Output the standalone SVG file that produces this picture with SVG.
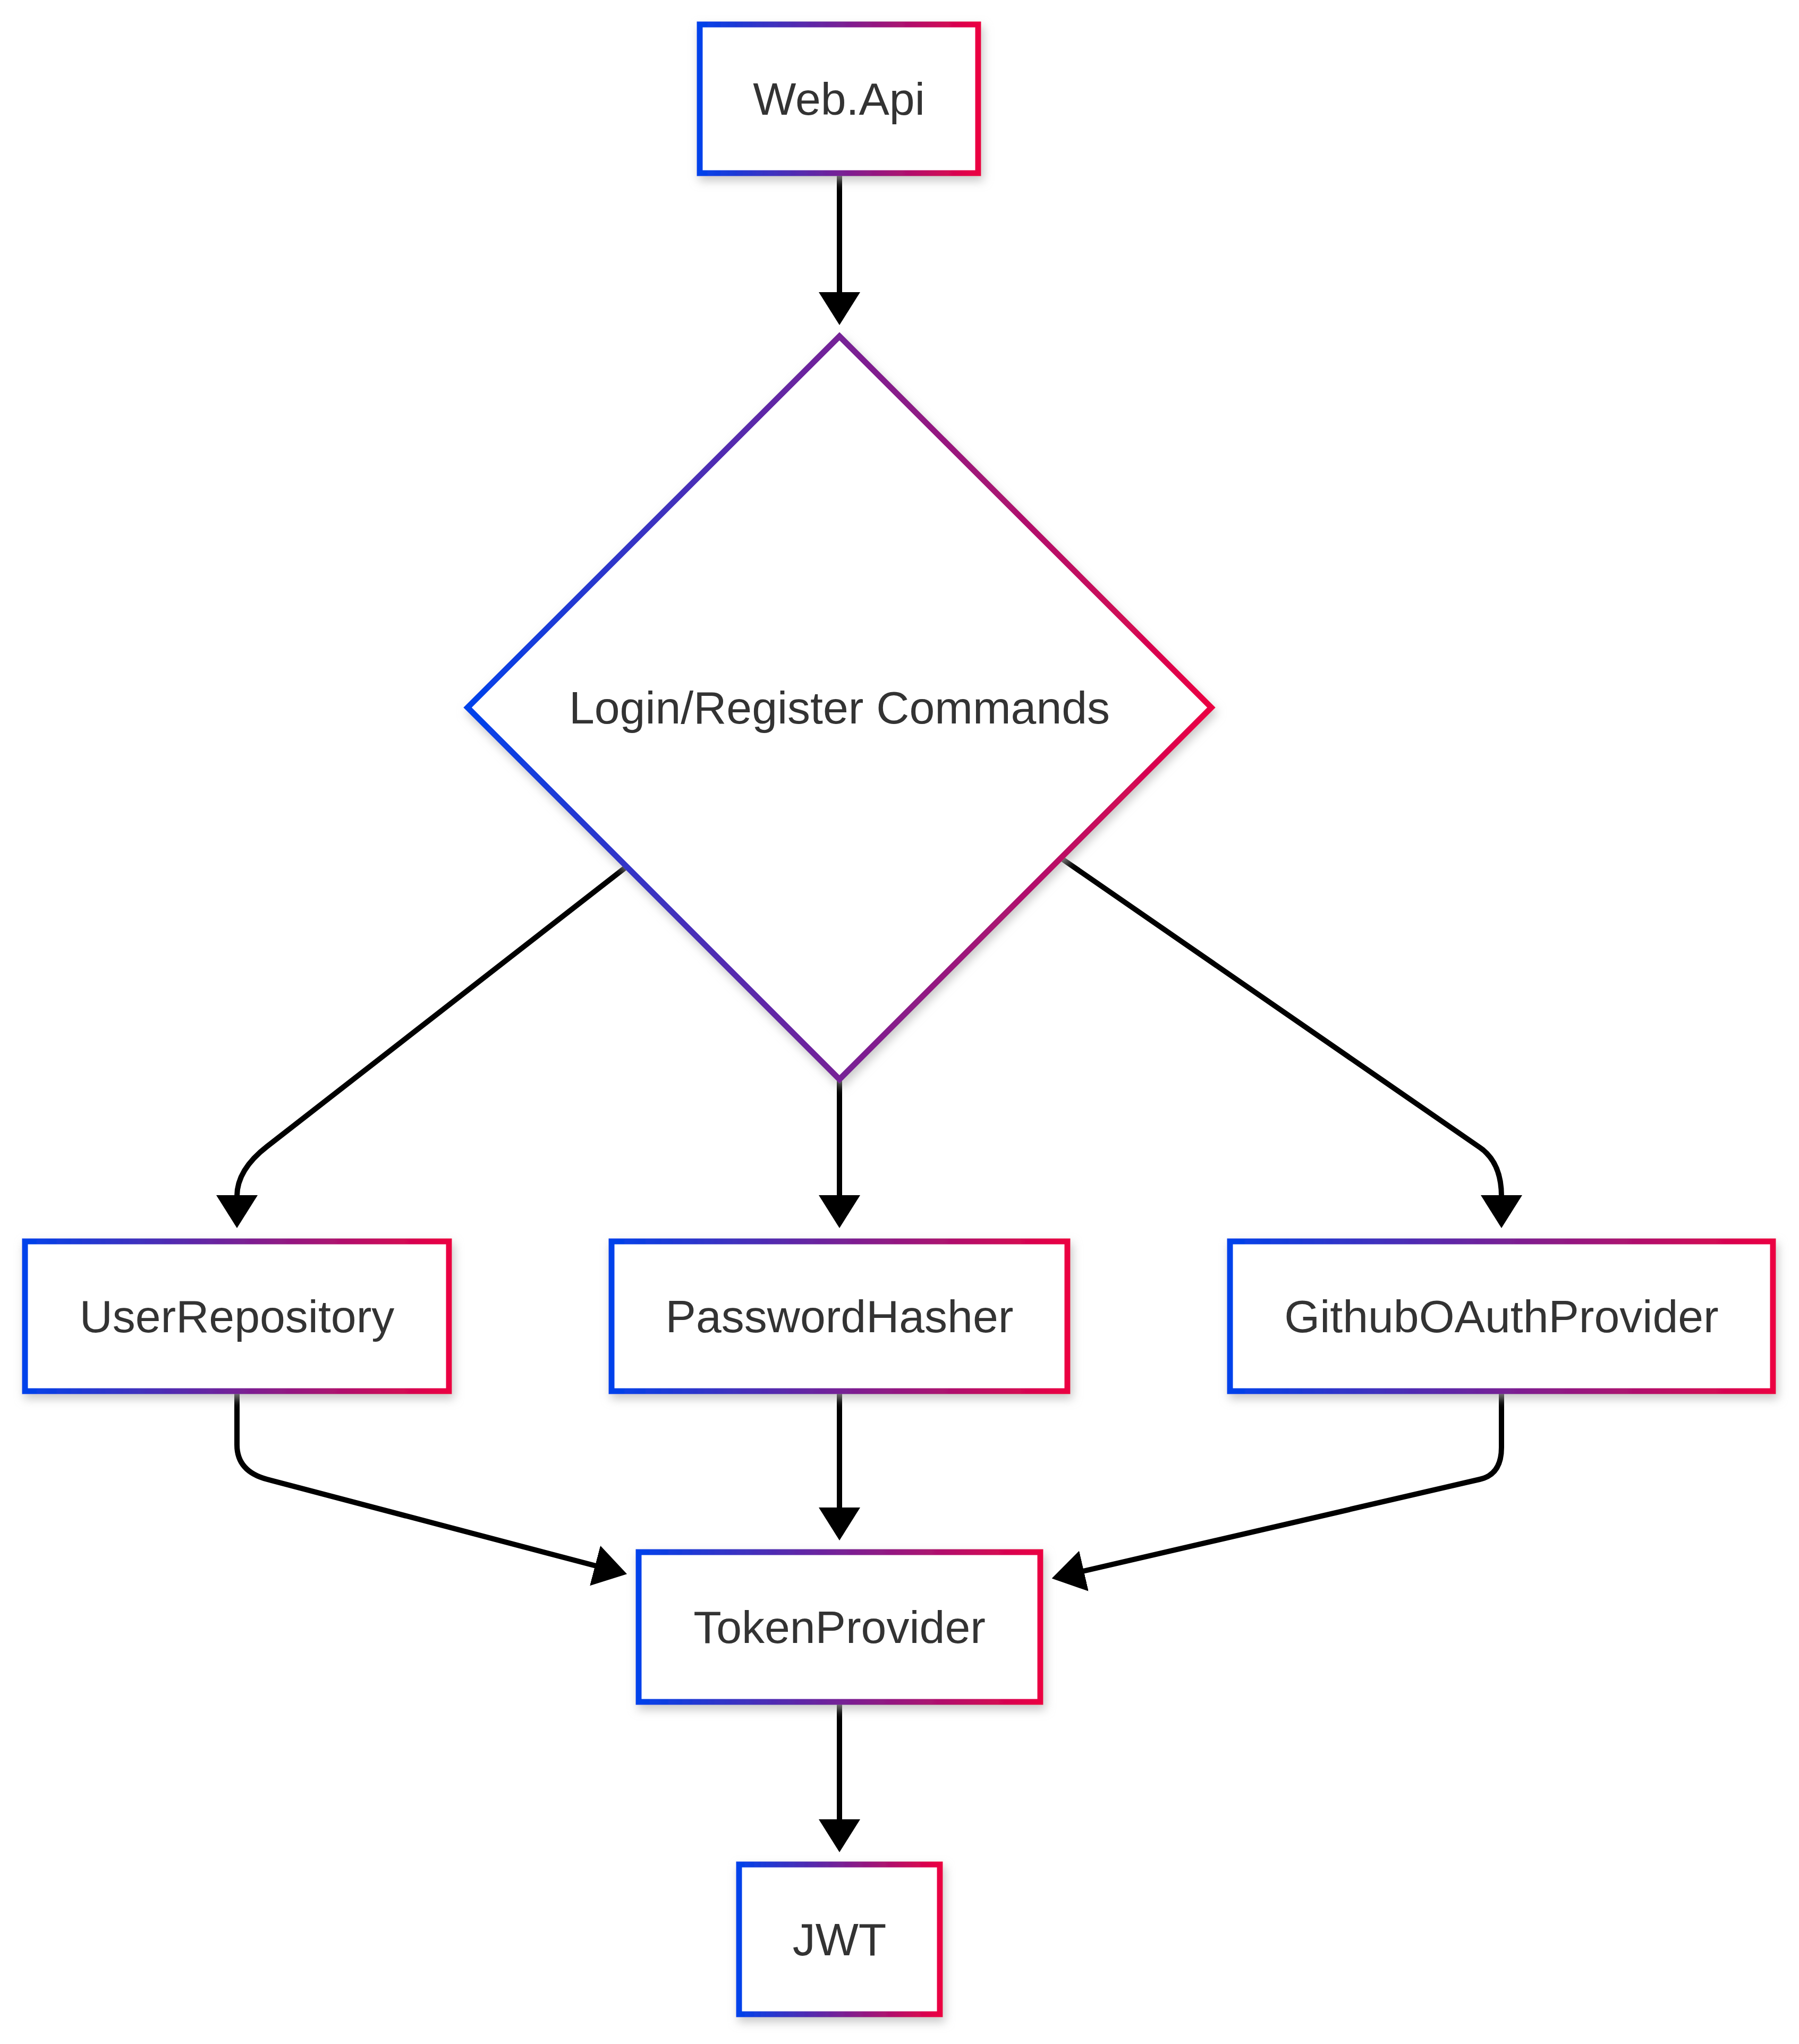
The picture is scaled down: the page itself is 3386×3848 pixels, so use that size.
<svg xmlns="http://www.w3.org/2000/svg" width="3386" height="3848" viewBox="0 0 3386 3848">
<defs>
<linearGradient id="g" x1="0" y1="0" x2="1" y2="0">
<stop offset="0" stop-color="#0042eb"/>
<stop offset="1" stop-color="#eb0042"/>
</linearGradient>
<filter id="sh" x="-20%" y="-20%" width="140%" height="150%">
<feDropShadow dx="4" dy="9" stdDeviation="9" flood-color="#b0b0b0" flood-opacity="0.7"/>
</filter>
<marker id="ah" viewBox="0 0 62 78" refX="2" refY="39" markerWidth="62" markerHeight="78" markerUnits="userSpaceOnUse" orient="auto">
<path d="M0,0 L62,39 L0,78 Z" fill="#000"/>
</marker>
<style>
.n{fill:#fff;stroke:url(#g);stroke-width:11;filter:url(#sh)}
.t{font-family:"Liberation Sans",Arial,sans-serif;font-size:86px;fill:#333;text-anchor:middle}
.e{fill:none;stroke:#000;stroke-width:10;marker-end:url(#ah)}
</style>
</defs>
<rect width="3386" height="3848" fill="#fff"/>
<g id="edges">
<path class="e" d="M1580,326 L1580,552"/>
<path class="e" d="M1180,1631 L503,2158 Q446,2202 446,2252"/>
<path class="e" d="M1580,2032 L1580,2252"/>
<path class="e" d="M1999,1617 L2785,2160 Q2826,2188 2826,2252"/>
<path class="e" d="M446,2618 L446,2720 Q446,2770 503,2785 L1122,2948"/>
<path class="e" d="M1580,2618 L1580,2840"/>
<path class="e" d="M2826,2618 L2826,2725 Q2826,2776 2785,2785 L2038,2958"/>
<path class="e" d="M1580,3204 L1580,3427"/>
</g>
<g id="webapi">
<rect class="n" x="1317" y="46" width="524" height="280"/>
<text class="t" x="1579" y="216">Web.Api</text>
</g>
<g id="commands">
<polygon class="n" points="1580,633 2280,1332 1580,2032 880,1332"/>
<text class="t" x="1580" y="1362">Login/Register Commands</text>
</g>
<g id="userrepo">
<rect class="n" x="47" y="2337" width="798" height="282"/>
<text class="t" x="446" y="2508">UserRepository</text>
</g>
<g id="hasher">
<rect class="n" x="1151" y="2337" width="858" height="282"/>
<text class="t" x="1580" y="2508">PasswordHasher</text>
</g>
<g id="github">
<rect class="n" x="2315" y="2337" width="1022" height="282"/>
<text class="t" x="2826" y="2508">GithubOAuthProvider</text>
</g>
<g id="token">
<rect class="n" x="1202" y="2922" width="756" height="282"/>
<text class="t" x="1580" y="3093">TokenProvider</text>
</g>
<g id="jwt">
<rect class="n" x="1391" y="3510" width="378" height="282"/>
<text class="t" x="1580" y="3681">JWT</text>
</g>
</svg>
